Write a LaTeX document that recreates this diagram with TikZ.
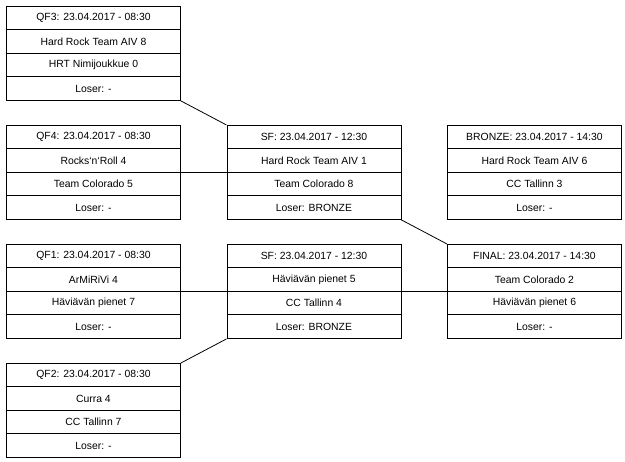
\documentclass[tikz,border=0pt]{standalone}
\usepackage{fontspec}
\setmainfont{Liberation Sans}
\begin{document}
\begin{tikzpicture}[x=1pt,y=-1pt,
  cell/.style={draw=black,line width=0.9pt,rectangle,minimum width=174pt,minimum height=23.5pt,
    inner sep=0pt,anchor=north west,font=\fontsize{10.4}{12}\selectfont},
  link/.style={draw=black,line width=0.8pt}]
\useasboundingbox (0,0) rectangle (625,462);
\newcommand\matchbox[7]{%
  \node[cell] (#1-1) at (#2,#3) {#4};
  \node[cell] (#1-2) at (#2,#3+23.5) {#5};
  \node[cell] (#1-3) at (#2,#3+47) {#6};
  \node[cell] (#1-4) at (#2,#3+70.5) {#7};
}
\matchbox{qf3}{6}{6}{QF3: 23.04.2017 - 08:30}{Hard Rock Team AIV 8}{HRT Nimijoukkue 0}{Loser: -}
\matchbox{qf4}{6}{125}{QF4: 23.04.2017 - 08:30}{Rocks{\char"60}n{\char"60}Roll 4}{Team Colorado 5}{Loser: -}
\matchbox{qf1}{6}{244}{QF1: 23.04.2017 - 08:30}{ArMiRiVi 4}{Häviävän pienet 7}{Loser: -}
\matchbox{qf2}{6}{363}{QF2: 23.04.2017 - 08:30}{Curra 4}{CC Tallinn 7}{Loser: -}
\matchbox{sf1}{226.5}{125}{SF: 23.04.2017 - 12:30}{Hard Rock Team AIV 1}{Team Colorado 8}{Loser: BRONZE}
\matchbox{sf2}{226.5}{244}{SF: 23.04.2017 - 12:30}{Häviävän pienet 5}{CC Tallinn 4}{Loser: BRONZE}
\matchbox{br}{447}{125}{BRONZE: 23.04.2017 - 14:30}{Hard Rock Team AIV 6}{CC Tallinn 3}{Loser: -}
\matchbox{fin}{447}{244}{FINAL: 23.04.2017 - 14:30}{Team Colorado 2}{Häviävän pienet 6}{Loser: -}
\draw[link] (qf3-4.south east) -- (sf1-1.north west);
\draw[link] (qf4-3.north east) -- (sf1-3.north west);
\draw[link] (sf1-4.south east) -- (fin-1.north west);
\draw[link] (qf1-3.north east) -- (sf2-3.north west);
\draw[link] (sf2-3.north east) -- (fin-3.north west);
\draw[link] (qf2-1.north east) -- (sf2-4.south west);
\end{tikzpicture}
\end{document}
